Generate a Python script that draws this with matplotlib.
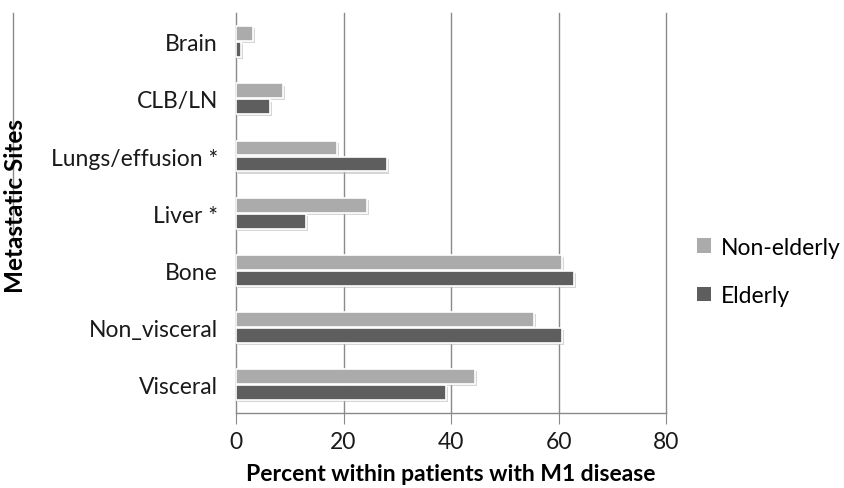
import numpy as np
import matplotlib
matplotlib.use('Agg')
import matplotlib.pyplot as plt
import matplotlib.patheffects as pe

# Data (percent within patients with M1 disease)
sites = ['Visceral', 'Non_visceral', 'Bone', 'Liver *', 'Lungs/effusion *', 'CLB/LN', 'Brain']
non_elderly = [44.5, 55.4, 60.6, 24.4, 18.8, 8.7, 3.2]
elderly = [39.1, 60.7, 62.9, 13.0, 28.1, 6.3, 1.0]
xticks = [0, 20, 40, 60, 80]

plt.rcParams['font.family'] = ['Lato', 'DejaVu Sans']
FS = 16.5

fig = plt.figure(figsize=(8.45, 4.89), dpi=100)
ax = fig.add_axes([0.2793, 0.153, 0.5089, 0.818])

y = np.arange(len(sites))
h = 0.26
shadow = [pe.SimplePatchShadow(offset=(1.5, -1.5), shadow_rgbFace='#bbbbbb', alpha=0.6), pe.Normal()]

b1 = ax.barh(y + h / 2 + 0.01, non_elderly, height=h, color='#ababab',
             edgecolor='white', linewidth=1.2, label='Non-elderly', zorder=3)
b2 = ax.barh(y - h / 2 - 0.01, elderly, height=h, color='#5e5e5e',
             edgecolor='white', linewidth=1.2, label='Elderly', zorder=3)
for bar in list(b1) + list(b2):
    bar.set_path_effects(shadow)

ax.set_xlim(0, 80)
ax.set_ylim(-0.5, len(sites) - 0.5)
ax.set_xticks(xticks)
ax.set_yticks(y)
ax.set_yticklabels(sites)
for xv in xticks[1:]:
    ax.axvline(xv, color='#8a8a8a', linewidth=1.0, zorder=0, clip_on=False)

for s in ['top', 'right']:
    ax.spines[s].set_visible(False)
for s in ['left', 'bottom']:
    ax.spines[s].set_color('#8a8a8a')
    ax.spines[s].set_linewidth(1.0)

ax.tick_params(axis='x', length=8, color='#8a8a8a', labelsize=FS, pad=5, labelcolor='#1a1a1a')
ax.tick_params(axis='y', length=0, labelsize=FS, pad=13, labelcolor='#1a1a1a')

ax.set_xlabel('Percent within patients with M1 disease', fontsize=FS, fontweight='bold', labelpad=8)
fig.text(0.018, 0.578, 'Metastatic Sites', rotation=90, fontsize=17.5, fontweight='bold',
         ha='center', va='center')
fig.add_artist(plt.Line2D([0.0154, 0.0154], [0.505, 0.971], color='#8a8a8a', linewidth=1.0))

handles, labels = ax.get_legend_handles_labels()
leg = fig.legend(handles, labels, loc='center left', bbox_to_anchor=(0.801, 0.443),
                 frameon=False, fontsize=FS, handlelength=0.6, handleheight=0.6,
                 labelspacing=1.2, handletextpad=0.4)
for hd in leg.legend_handles:
    hd.set_edgecolor('none')
    hd.set_path_effects([])

fig.savefig('out.png', dpi=100)
